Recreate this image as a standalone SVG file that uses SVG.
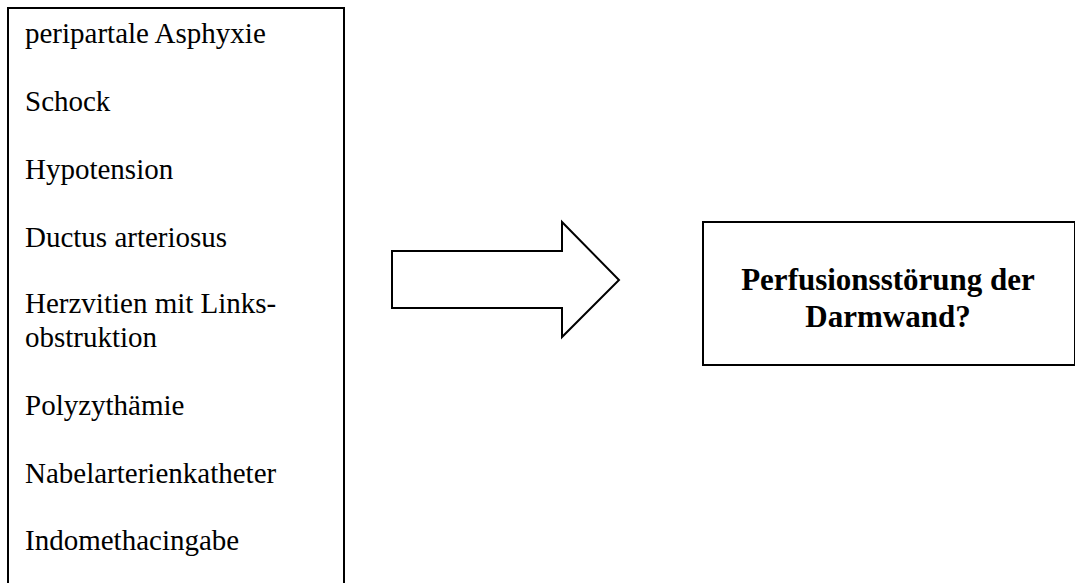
<svg xmlns="http://www.w3.org/2000/svg" width="1075" height="583" viewBox="0 0 1075 583">
<style>
.box{fill:#fff;stroke:#000;stroke-width:2}
.t{font-family:"Liberation Serif","Times New Roman",serif;font-size:29px;fill:#000}
.b{font-family:"Liberation Serif","Times New Roman",serif;font-size:31px;font-weight:bold;fill:#000;text-anchor:middle}
</style>
<rect width="1075" height="583" fill="#fff"/>
<g id="causes">
<rect class="box" x="8" y="8" width="336" height="600"/>
<text class="t" x="25" y="43">peripartale Asphyxie</text>
<text class="t" x="25" y="111">Schock</text>
<text class="t" x="25" y="179">Hypotension</text>
<text class="t" x="25" y="247">Ductus arteriosus</text>
<text class="t" x="25" y="313">Herzvitien mit Links-</text>
<text class="t" x="25" y="347">obstruktion</text>
<text class="t" x="25" y="415">Polyzythämie</text>
<text class="t" x="25" y="483">Nabelarterienkatheter</text>
<text class="t" x="25" y="550">Indomethacingabe</text>
</g>
<g id="connectors">
<polygon class="box" points="392,251 562,251 562,222 619,280 562,337 562,308 392,308"/>
</g>
<g id="result">
<rect class="box" x="703" y="222" width="372" height="143"/>
<text class="b" x="888" y="290">Perfusionsstörung der</text>
<text class="b" x="888" y="327">Darmwand?</text>
</g>
</svg>
